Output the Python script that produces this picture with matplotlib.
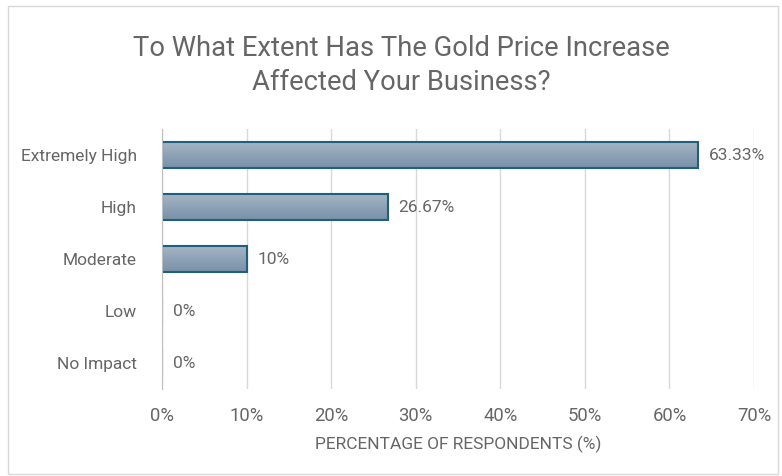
import matplotlib
matplotlib.use("Agg")
import matplotlib.pyplot as plt
import numpy as np
from matplotlib.patches import Rectangle
from matplotlib.colors import LinearSegmentedColormap

categories = ["Extremely High", "High", "Moderate", "Low", "No Impact"]
values = [63.33, 26.67, 10, 0, 0]
value_labels = ["63.33%", "26.67%", "10%", "0%", "0%"]
xticks = [0, 10, 20, 30, 40, 50, 60, 70]
xtick_labels = ["0%", "10%", "20%", "30%", "40%", "50%", "60%", "70%"]

plt.rcParams['font.family'] = ['Roboto', 'DejaVu Sans']
txt = '#666666'
fs = 12.5

fig = plt.figure(figsize=(7.82, 4.76), dpi=100)
ax = fig.add_axes([162/782, 1-389/476, (754-162)/782, 260/476])

y = np.arange(len(categories))
bars = ax.barh(y, values, height=0.5, color='none', edgecolor='#1f5f80', linewidth=1.5, zorder=4)

grad = np.linspace(0, 1, 100).reshape(-1, 1)
cmap = LinearSegmentedColormap.from_list('g', ['#a5b5c5', '#7890a7'])
for b in bars:
    w = b.get_width()
    if w <= 0:
        continue
    x0, y0 = b.get_x(), b.get_y()
    h = b.get_height()
    # top of bar (smaller y in inverted axis) lighter
    im = ax.imshow(grad, extent=[x0, x0 + w, y0 + h, y0], aspect='auto', cmap=cmap.reversed(),
                   zorder=3, origin='lower')
    im.set_clip_path(b)

for yi, v, lab in zip(y, values, value_labels):
    ax.annotate(lab, (v, yi), xytext=(8, 0), textcoords='offset points', va='center', ha='left',
                fontsize=fs, color=txt)

ax.set_xlim(0, 70)
ax.set_ylim(len(categories) - 0.5, -0.5)
ax.set_yticks(y)
ax.set_yticklabels(categories, fontsize=fs, color=txt)
ax.set_xticks(xticks)
ax.set_xticklabels(xtick_labels, fontsize=13.3, color=txt)
ax.tick_params(axis='x', length=0, pad=13)
ax.tick_params(axis='y', length=0, pad=18)
ax.grid(axis='x', color='#d9d9d9', linewidth=1, zorder=0)
ax.set_axisbelow(True)
for s in ['top', 'right', 'bottom']:
    ax.spines[s].set_visible(False)
ax.spines['left'].set_color('#bfbfbf')
ax.spines['left'].set_zorder(5)

ax.set_xlabel("PERCENTAGE OF RESPONDENTS (%)", fontsize=fs, color=txt, labelpad=8)

fig.text(401/782, 1-48/476, "To What Extent Has The Gold Price Increase", ha='center', va='center',
         fontsize=19.7, color=txt)
fig.text(401/782, 1-82/476, "Affected Your Business?", ha='center', va='center',
         fontsize=19.7, color=txt)

fig.patches.append(Rectangle((8/782, 2/476), (778-8)/782, (470-2)/476, transform=fig.transFigure,
                             fill=False, edgecolor='#d9d9d9', linewidth=1))

fig.savefig("out.png", dpi=100)
